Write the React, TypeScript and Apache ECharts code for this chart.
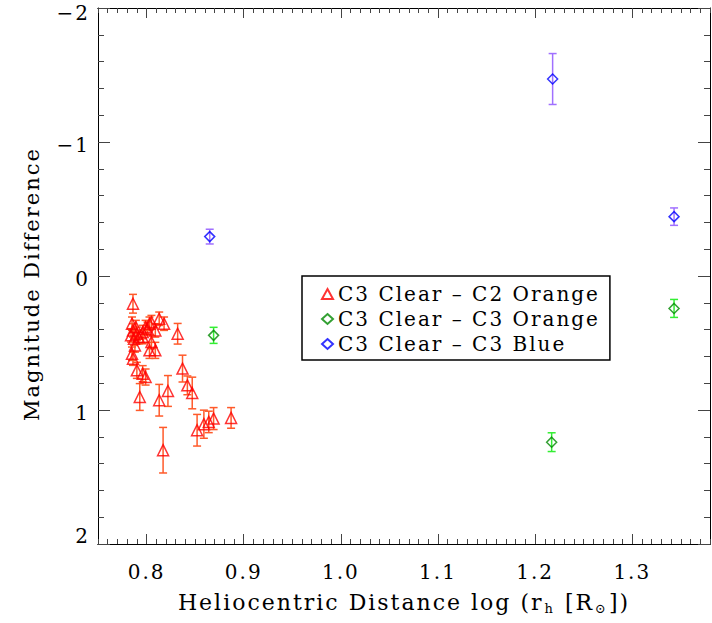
import React, { useEffect, useRef } from "react";
import * as echarts from "echarts";

// C3 Clear - C2 Orange (red triangles)
const redX = [0.786, 0.785, 0.789, 0.786, 0.784, 0.787, 0.792, 0.790, 0.796, 0.799, 0.803, 0.805, 0.813, 0.818, 0.809, 0.801, 0.796, 0.788, 0.785, 0.786, 0.805, 0.803, 0.809, 0.832, 0.790, 0.796, 0.799, 0.837, 0.842, 0.847, 0.822, 0.813, 0.793, 0.852, 0.859, 0.864, 0.869, 0.887, 0.817];
const redY = [0.207, 0.356, 0.381, 0.406, 0.443, 0.468, 0.456, 0.431, 0.418, 0.381, 0.356, 0.344, 0.319, 0.356, 0.406, 0.394, 0.456, 0.518, 0.580, 0.617, 0.493, 0.555, 0.555, 0.431, 0.704, 0.729, 0.754, 0.691, 0.816, 0.873, 0.858, 0.927, 0.903, 1.151, 1.106, 1.089, 1.064, 1.059, 1.300];
const redErr = [0.07, 0.05, 0.05, 0.05, 0.05, 0.05, 0.05, 0.05, 0.05, 0.05, 0.05, 0.05, 0.05, 0.05, 0.05, 0.05, 0.05, 0.05, 0.05, 0.05, 0.05, 0.06, 0.06, 0.077, 0.06, 0.06, 0.06, 0.10, 0.07, 0.118, 0.115, 0.118, 0.10, 0.118, 0.105, 0.08, 0.082, 0.077, 0.17];

// C3 Clear - C3 Orange (green diamonds)
const greenX = [0.869, 1.217, 1.343];
const greenY = [0.443, 1.240, 0.242];
const greenErr = [0.06, 0.07, 0.067];

// C3 Clear - C3 Blue (blue diamonds)
const blueX = [0.865, 1.218, 1.343];
const blueY = [-0.294, -1.47, -0.443];
const blueErr = [0.055, 0.19, 0.065];

const seriesNames = ["C3 Clear \u2013 C2 Orange", "C3 Clear \u2013 C3 Orange", "C3 Clear \u2013 C3 Blue"];
const xTickValues = [0.8, 0.9, 1.0, 1.1, 1.2, 1.3];
const X_MIN = 0.75;
const X_MAX = 1.38;

const FONT = "DejaVu Serif";
const SP = 2;

function minorValues(): number[] {
  const out: number[] = [];
  for (let i = 75; i <= 138; i++) out.push(i / 100);
  return out;
}

function errBarSeries(name: string, xs: number[], ys: number[], es: number[], color: string) {
  return {
    name,
    type: "custom",
    silent: true,
    data: xs.map((x, i) => [x, ys[i], es[i]]),
    encode: { x: 0, y: 1 },
    z: 1,
    renderItem: (params: any, api: any) => {
      const x = api.value(0);
      const y = api.value(1);
      const e = api.value(2);
      const lo = api.coord([x, y - e]);
      const hi = api.coord([x, y + e]);
      const hw = 4;
      const st = { stroke: color, lineWidth: 1.5 };
      return {
        type: "group",
        children: [
          { type: "line", shape: { x1: lo[0], y1: lo[1], x2: hi[0], y2: hi[1] }, style: st },
          { type: "line", shape: { x1: lo[0] - hw, y1: lo[1], x2: lo[0] + hw, y2: lo[1] }, style: st },
          { type: "line", shape: { x1: hi[0] - hw, y1: hi[1], x2: hi[0] + hw, y2: hi[1] }, style: st },
        ],
      };
    },
  };
}

function scatterSeries(name: string, xs: number[], ys: number[], symbol: string, size: number, color: string) {
  return {
    name,
    type: "scatter",
    symbol,
    symbolSize: size,
    data: xs.map((x, i) => [x, ys[i]]),
    itemStyle: { color: "rgba(0,0,0,0)", borderColor: color, borderWidth: 1.5 },
    z: 3,
  };
}

export default function App() {
  const ref = useRef<HTMLDivElement>(null);
  useEffect(() => {
    if (!ref.current) return;
    const chart = echarts.init(ref.current, null, { renderer: "svg" });
    const axisLine = { show: true, onZero: false, lineStyle: { color: "#000", width: 1 } };
    const tickStyle = { color: "#444", width: 1 };
    const minors = minorValues();
    const xBase = {
      type: "value",
      min: X_MIN,
      max: X_MAX,
      splitLine: { show: false },
      axisLine,
    };
    const titleRich = {
      a: { fontFamily: FONT, fontSize: 22, color: "#000", align: "left", padding: [0, 28 * SP, 0, 0] },
      s: { fontFamily: FONT, fontSize: 13, color: "#000", align: "left", padding: [12, SP + 1, 0, 1] },
      b: { fontFamily: FONT, fontSize: 22, color: "#000", align: "left", padding: [0, 3 * SP, 0, 0] },
      c: { fontFamily: FONT, fontSize: 22, color: "#000", align: "left", padding: [0, 2 * SP, 0, 0] },
    };
    chart.setOption({
      animation: false,
      backgroundColor: "#fff",
      grid: { left: 98, top: 8, right: 2, bottom: 79 },
      legend: {
        orient: "vertical",
        left: 302,
        top: 276,
        data: seriesNames,
        itemWidth: 11,
        itemHeight: 10,
        itemGap: 1,
        padding: [6, 50, 4, 19],
        borderColor: "#000",
        borderWidth: 1.5,
        borderRadius: 0,
        backgroundColor: "#fff",
        textStyle: { fontFamily: FONT, fontSize: 20, color: "#000", lineHeight: 24 },
      },
      xAxis: [
        {
          ...xBase,
          position: "bottom",
          name: "{a|Heliocentric Distance log (r}{s|h}{b| [R}{s|\u2299}{c|])}",
          nameLocation: "middle",
          nameGap: 46,
          nameTextStyle: { fontFamily: FONT, fontSize: 22, color: "#000", rich: titleRich },
          axisTick: { show: true, inside: true, length: 10, lineStyle: tickStyle, customValues: xTickValues },
          axisLabel: {
            show: true,
            margin: 18,
            fontFamily: FONT,
            fontSize: 20,
            color: "#000",
            customValues: xTickValues,
            formatter: (v: number) => v.toFixed(1),
          },
        },
        {
          ...xBase,
          position: "bottom",
          axisTick: { show: true, inside: true, length: 5, lineStyle: tickStyle, customValues: minors },
          axisLabel: { show: false },
        },
        {
          ...xBase,
          position: "top",
          axisTick: { show: true, inside: true, length: 10, lineStyle: tickStyle, customValues: xTickValues },
          axisLabel: { show: false },
        },
        {
          ...xBase,
          position: "top",
          axisTick: { show: true, inside: true, length: 5, lineStyle: tickStyle, customValues: minors },
          axisLabel: { show: false },
        },
      ],
      yAxis: [
        {
          type: "value",
          inverse: true,
          min: -2,
          max: 2,
          interval: 1,
          position: "left",
          name: "Magnitude Difference",
          nameLocation: "middle",
          nameGap: 56,
          nameTextStyle: { fontFamily: FONT, fontSize: 21, color: "#000", padding: [0, 16, 0, 0] },
          axisLine,
          splitLine: { show: false },
          axisTick: { show: true, inside: true, length: 12, lineStyle: tickStyle },
          minorTick: { show: true, splitNumber: 5, length: 6, lineStyle: tickStyle },
          axisLabel: {
            margin: 8,
            fontFamily: FONT,
            fontSize: 20,
            color: "#000",
            formatter: (v: number) => {
              const t = v < 0 ? "\u2212" + Math.abs(v) : String(v);
              if (v === -2) return "{t|" + t + "}";
              if (v === 2) return "{bt|" + t + "}";
              return "{n|" + t + "}";
            },
            rich: {
              t: { fontFamily: FONT, fontSize: 20, color: "#000", padding: [10, 0, 0, 0] },
              bt: { fontFamily: FONT, fontSize: 20, color: "#000", padding: [0, 0, 16, 0] },
              n: { fontFamily: FONT, fontSize: 20, color: "#000", padding: [6, 0, 0, 0] },
            },
          },
        },
        {
          type: "value",
          inverse: true,
          min: -2,
          max: 2,
          interval: 1,
          position: "right",
          axisLine,
          splitLine: { show: false },
          axisTick: { show: true, inside: true, length: 12, lineStyle: tickStyle },
          minorTick: { show: true, splitNumber: 5, length: 6, lineStyle: tickStyle },
          axisLabel: { show: false },
        },
      ],
      series: [
        errBarSeries("errRed", redX, redY, redErr, "#ff5a2a"),
        errBarSeries("errGreen", greenX, greenY, greenErr, "#33ee33"),
        errBarSeries("errBlue", blueX, blueY, blueErr, "#a070ff"),
        scatterSeries(seriesNames[0], redX, redY, "triangle", 11, "#ff0000"),
        scatterSeries(seriesNames[1], greenX, greenY, "diamond", 10, "#008800"),
        scatterSeries(seriesNames[2], blueX, blueY, "diamond", 10, "#0000ff"),
      ],
    });
    return () => chart.dispose();
  }, []);
  return (
    <>
      <style>{`#root svg text { letter-spacing: ${SP}px; }`}</style>
      <div ref={ref} style={{ position: "fixed", left: 0, top: 0, width: 712, height: 623 }} />
    </>
  );
}
